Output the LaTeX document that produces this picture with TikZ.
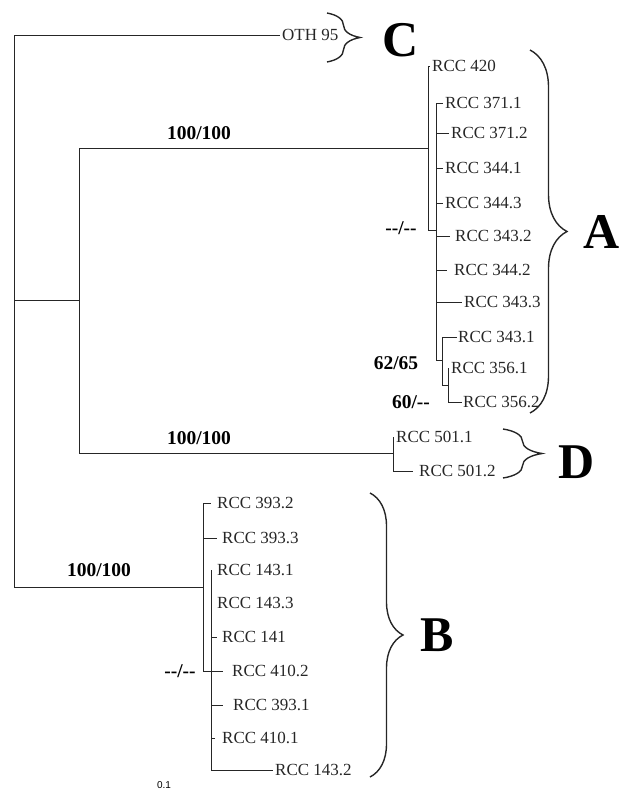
\documentclass[tikz,border=0pt]{standalone}
\usepackage{fontspec}
\setmainfont{Liberation Serif}
\setsansfont{Liberation Sans}
\usepackage{tikz}
\usetikzlibrary{
    positioning,              % For placing nodes relative to each other
    decorations.pathreplacing % For the curly braces
}
\tikzset{
    % Branches of the tree
    branch/.style={draw=black!85, line width=0.8pt},
    % Leaf labels (strain names)
    leaf_node/.style={anchor=west, inner xsep=2pt, inner ysep=0pt,
        font=\fontsize{17}{19}\selectfont, text=black!85},
    % Bootstrap support values
    support_node/.style={inner sep=0pt, font=\bfseries\fontsize{19.5}{21}\selectfont},
    % Curly braces that group a clade
    clade_brace/.style={decorate, line width=1.4pt, draw=black!85,
        decoration={brace, amplitude=#1}},
    % Big letters naming a clade
    clade_letter/.style={inner sep=0pt, font=\bfseries\fontsize{50}{50}\selectfont}
}
\begin{document}
\begin{tikzpicture}[x=1pt, y=-1pt]
\useasboundingbox (0,0) rectangle (624,792);

% --- INTERNAL NODES ---
\coordinate (root) at (14,300);
\coordinate (nAD) at (79,300);
\coordinate (nA)  at (428,148);
\coordinate (nA1) at (436,230);
\coordinate (nA2) at (442,360);
\coordinate (nA3) at (448,385);
\coordinate (nD)  at (393,453);
\coordinate (nB)  at (203,587);
\coordinate (nB1) at (211,671);

% --- LEAVES ---
\node[leaf_node] (oth95) at (280,35) {OTH 95};

% clade A
\node[leaf_node] (l420)  at (430,66)  {RCC 420};
\node[leaf_node] (l3711) at (443,103) {RCC 371.1};
\node[leaf_node] (l3712) at (449,133) {RCC 371.2};
\node[leaf_node] (l3441) at (443,168) {RCC 344.1};
\node[leaf_node] (l3443) at (443,203) {RCC 344.3};
\node[leaf_node, inner xsep=5pt] (l3432) at (450,236) {RCC 343.2};
\node[leaf_node, inner xsep=7pt] (l3442) at (447,270) {RCC 344.2};
\node[leaf_node] (l3433) at (462,302) {RCC 343.3};
\node[leaf_node, inner xsep=1pt] (l3431) at (457,337) {RCC 343.1};
\node[leaf_node] (l3561) at (449,368) {RCC 356.1};
\node[leaf_node, inner xsep=1pt] (l3562) at (462,402) {RCC 356.2};

% clade D
\node[leaf_node] (l5011) at (394,437) {RCC 501.1};
\node[leaf_node, inner xsep=6pt] (l5012) at (413,471) {RCC 501.2};

% clade B
\node[leaf_node, inner xsep=6pt] (l3932) at (211,503) {RCC 393.2};
\node[leaf_node, inner xsep=5pt] (l3933) at (217,538) {RCC 393.3};
\node[leaf_node, inner xsep=5pt] (l1431) at (212,570) {RCC 143.1};
\node[leaf_node, inner xsep=5pt] (l1433) at (212,603) {RCC 143.3};
\node[leaf_node, inner xsep=5pt] (l141)  at (217,637) {RCC 141};
\node[leaf_node, inner xsep=9pt] (l4102) at (223,671) {RCC 410.2};
\node[leaf_node, inner xsep=10pt] (l3931) at (223,705) {RCC 393.1};
\node[leaf_node, inner xsep=7pt] (l4101) at (215,738) {RCC 410.1};
\node[leaf_node] (l1432) at (273,770) {RCC 143.2};

% --- BRANCHES ---
\draw[branch] (root) |- (oth95.west);
\draw[branch] (root) |- (nB);
\draw[branch] (root) -- (nAD);
\draw[branch] (nAD) |- (nA);
\draw[branch] (nAD) |- (nD);

\draw[branch] (nA) |- (l420.west);
\draw[branch] (nA) |- (nA1);
\foreach \leaf in {l3711,l3712,l3441,l3443,l3432,l3442,l3433}
    \draw[branch] (nA1) |- (\leaf.west);
\draw[branch] (nA1) |- (nA2);
\draw[branch] (nA2) |- (l3431.west);
\draw[branch] (nA2) |- (nA3);
\draw[branch] (nA3) |- (l3561.west);
\draw[branch] (nA3) |- (l3562.west);

\draw[branch] (nD) |- (l5011.west);
\draw[branch] (nD) |- (l5012.west);

\draw[branch] (nB) |- (l3932.west);
\draw[branch] (nB) |- (l3933.west);
\draw[branch] (nB) |- (nB1);
\foreach \leaf in {l1431,l1433,l141,l4102,l3931,l4101,l1432}
    \draw[branch] (nB1) |- (\leaf.west);

% --- SUPPORT VALUES ---
\node[support_node] (sA)  at (199,133) {100/100};
\node[support_node] (sD)  at (199,438) {100/100};
\node[support_node] (sB)  at (99,570)  {100/100};
\node[support_node] (sA1) at (401,228) {-{}-/-{}-};
\node[support_node] (sA2) at (396,363) {62/65};
\node[support_node] (sA3) at (411,402) {60/-{}-};
\node[support_node] (sB1) at (180,671) {-{}-/-{}-};

% scale value
\node[inner sep=0pt, font=\sffamily\fontsize{10}{11}\selectfont] (scale) at (164,785) {0.1};

% --- CLADE BRACES ---
\coordinate (bC_top) at (327,13);  \coordinate (bC_bot) at (327,62);
\coordinate (bA_top) at (530,50);  \coordinate (bA_bot) at (530,413);
\coordinate (bD_top) at (503,429); \coordinate (bD_bot) at (503,478);
\coordinate (bB_top) at (370,493); \coordinate (bB_bot) at (370,777);
\draw[clade_brace=33pt] (bC_top) -- (bC_bot);
\draw[clade_brace=37pt] (bA_top) -- (bA_bot);
\draw[clade_brace=39pt] (bD_top) -- (bD_bot);
\draw[clade_brace=33pt] (bB_top) -- (bB_bot);

\node[clade_letter] (cC) at (401,40)  {C};
\node[clade_letter] (cA) at (602,232) {A};
\node[clade_letter] (cD) at (577,462) {D};
\node[clade_letter] (cB) at (437,635) {B};

\end{tikzpicture}
\end{document}
